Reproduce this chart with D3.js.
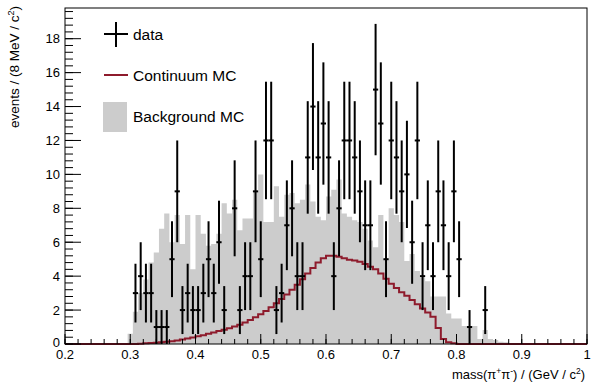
<!DOCTYPE html>
<html><head><meta charset="utf-8">
<script src="https://cdn.jsdelivr.net/npm/d3@7"></script>
<style>
html,body{margin:0;padding:0;background:#fff;}
svg{display:block;font-family:"Liberation Sans",Arial,Helvetica,sans-serif;}
</style></head>
<body>
<svg id="chart" width="591" height="385"></svg>
<script>
// ---- data (bins of 8 MeV starting at 0.296 GeV) ----
const firstBinLow = 0.296;
const binWidth = 0.008;
const dataCounts = [
  0, 3, 4, 3, 3, 1, 1, 1, 5, 9,
  2, 3, 2, 2, 3, 5, 3, 6, 2, 0,
  8, 2, 4, 4, 9, 5, 12, 12, 2, 3,
  7, 8, 4, 4, 11, 14, 11, 13, 11, 4,
  8, 12, 12, 11, 9, 7, 7, 15, 13, 5,
  12, 11, 9, 10, 6, 12, 4, 7, 4, 9,
  7, 4, 9, 5, 0, 1, 0, 0, 2, 0, 0, 0, 0
];
const backgroundMC = [
  0.6, 1.9, 3.0, 3.8, 4.8, 5.4, 6.8, 7.7, 6.0, 7.6,
  5.9, 7.6, 4.4, 7.6, 6.5, 5.8, 5.9, 6.5, 8.3, 7.7,
  8.5, 6.7, 7.4, 7.4, 9.0, 10.0, 7.2, 7.2, 9.3, 7.5,
  8.8, 8.9, 8.3, 8.5, 9.4, 8.4, 7.5, 7.3, 8.7, 9.1,
  9.7, 7.7, 7.5, 7.3, 7.2, 6.8, 6.1, 5.7, 7.6, 5.0,
  8.0, 7.6, 7.2, 4.9, 5.3, 4.3, 3.9, 3.7, 2.8, 2.8,
  2.8, 1.8, 1.5, 1.5, 1.06, 1.06, 1.06, 0.3, 0.83, 0.3, 0.24, 0.14, 0.1
];
const continuumMC = [
  0, 0, 0.02, 0.04, 0.06, 0.08, 0.1, 0.13, 0.16, 0.2,
  0.26, 0.32, 0.38, 0.45, 0.52, 0.6, 0.68, 0.76, 0.84, 0.93,
  1.03, 1.14, 1.27, 1.42, 1.58, 1.76, 1.95, 2.16, 2.4, 2.65,
  2.92, 3.2, 3.5, 3.82, 4.15, 4.48, 4.8, 5.05, 5.2, 5.2,
  5.15, 5.05, 4.97, 4.92, 4.85, 4.72, 4.56, 4.4, 4.15, 3.85,
  3.55, 3.3, 3.05, 2.85, 2.6, 2.35, 2.1, 1.85, 1.6, 0.95,
  0.3, 0.1, 0.05, 0, 0, 0, 0, 0, 0, 0, 0, 0, 0
];
const xDomain = [0.2, 1.0];
const yDomain = [0, 19.81];
const xTickLabels = ["0.2","0.3","0.4","0.5","0.6","0.7","0.8","0.9","1"];
const yTickLabels = ["0","2","4","6","8","10","12","14","16","18"];
const legendLabels = ["data", "Continuum MC", "Background MC"];

// ---- layout ----
const L = 65, R = 587, T = 8, B = 344;
const svg = d3.select("#chart");
const x = d3.scaleLinear().domain(xDomain).range([L, R]);
const y = d3.scaleLinear().domain(yDomain).range([B, T]);
const GREY = "#cccccc", RED = "#8e1b2c";

const bins = dataCounts.map((d, i) => {
  const lo = firstBinLow + i * binWidth;
  return {lo, hi: lo + binWidth, mid: lo + binWidth / 2, n: d, bkg: backgroundMC[i], cont: continuumMC[i]};
});

// background MC filled histogram
const bkgPts = [];
bins.forEach(b => { bkgPts.push([b.lo, b.bkg]); bkgPts.push([b.hi, b.bkg]); });
svg.append("path")
  .attr("d", d3.area().x(d => x(d[0])).y0(y(0)).y1(d => y(d[1]))(bkgPts))
  .attr("fill", GREY);

// continuum MC step line over full range
const contPts = [[xDomain[0], 0]];
bins.forEach(b => { contPts.push([b.lo, b.cont]); contPts.push([b.hi, b.cont]); });
contPts.push([xDomain[1], 0]);
svg.append("clipPath").attr("id", "plotclip").append("rect")
  .attr("x", L).attr("y", T).attr("width", R - L).attr("height", B - T + 2);
svg.append("path")
  .attr("d", d3.line().x(d => x(d[0])).y(d => y(d[1]))(contPts))
  .attr("fill", "none").attr("stroke", RED).attr("stroke-width", 2)
  .attr("clip-path", "url(#plotclip)");

// data points with error bars
const pts = svg.append("g");
bins.filter(b => b.n > 0).forEach(b => {
  const e = Math.sqrt(b.n);
  pts.append("line").attr("x1", x(b.mid)).attr("x2", x(b.mid))
    .attr("y1", y(b.n - e)).attr("y2", y(b.n + e))
    .attr("stroke", "#000").attr("stroke-width", 2);
  pts.append("line").attr("x1", x(b.lo)).attr("x2", x(b.hi))
    .attr("y1", y(b.n)).attr("y2", y(b.n))
    .attr("stroke", "#000").attr("stroke-width", 2);
});

// frame
svg.append("rect").attr("x", L).attr("y", T).attr("width", R - L).attr("height", B - T)
  .attr("fill", "none").attr("stroke", "#000").attr("stroke-width", 1);

// x axis
const xAxis = svg.append("g");
const xMajor = xTickLabels.map(t => +t);
d3.range(0, 41).map(i => xDomain[0] + i * 0.02).forEach(v => {
  xAxis.append("line").attr("x1", x(v)).attr("x2", x(v)).attr("y1", B).attr("y2", B - 5)
    .attr("stroke", "#000").attr("stroke-width", 1);
});
xMajor.forEach((v, i) => {
  xAxis.append("line").attr("x1", x(v)).attr("x2", x(v)).attr("y1", B).attr("y2", B - 10)
    .attr("stroke", "#000").attr("stroke-width", 1);
  xAxis.append("text").attr("x", x(v)).attr("y", B + 15).attr("text-anchor", "middle")
    .attr("font-size", 13).text(xTickLabels[i]);
});

// y axis
const yAxis = svg.append("g");
const yMajor = yTickLabels.map(t => +t);
d3.range(0, 50).map(i => i * 0.4).filter(v => v <= yDomain[1]).forEach(v => {
  yAxis.append("line").attr("x1", L).attr("x2", L + 8).attr("y1", y(v)).attr("y2", y(v))
    .attr("stroke", "#000").attr("stroke-width", 1);
});
yMajor.forEach((v, i) => {
  yAxis.append("line").attr("x1", L).attr("x2", L + 16).attr("y1", y(v)).attr("y2", y(v))
    .attr("stroke", "#000").attr("stroke-width", 1);
  yAxis.append("text").attr("x", L - 5).attr("y", y(v) + 4.5 - (v === 0 ? 2 : 0)).attr("text-anchor", "end")
    .attr("font-size", 13).text(yTickLabels[i]);
});

// axis titles
const xt = svg.append("text").attr("x", R - 2).attr("y", 379).attr("text-anchor", "end").attr("font-size", 13);
xt.append("tspan").text("mass(\u03c0");
xt.append("tspan").attr("dy", -5).attr("font-size", 8.5).text("+");
xt.append("tspan").attr("dy", 5).text("\u03c0");
xt.append("tspan").attr("dy", -5).attr("font-size", 8.5).text("-");
xt.append("tspan").attr("dy", 5).text(") / (GeV / c");
xt.append("tspan").attr("dy", -5).attr("font-size", 8.5).text("2");
xt.append("tspan").attr("dy", 5).text(")");

const yt = svg.append("text").attr("transform", "translate(19,6) rotate(-90)")
  .attr("text-anchor", "end").attr("font-size", 13.5);
yt.append("tspan").text("events / (8 MeV / c");
yt.append("tspan").attr("dy", -5).attr("font-size", 9).text("2");
yt.append("tspan").attr("dy", 5).text(")");

// legend
const lg = svg.append("g");
lg.append("line").attr("x1", 116).attr("x2", 116).attr("y1", 22).attr("y2", 47).attr("stroke", "#000").attr("stroke-width", 2);
lg.append("line").attr("x1", 104).attr("x2", 128).attr("y1", 34).attr("y2", 34).attr("stroke", "#000").attr("stroke-width", 2);
lg.append("line").attr("x1", 104).attr("x2", 128).attr("y1", 75).attr("y2", 75).attr("stroke", RED).attr("stroke-width", 2);
lg.append("rect").attr("x", 103).attr("y", 102).attr("width", 24).attr("height", 30).attr("fill", GREY);
[39.5, 81, 122].forEach((yy, i) => {
  lg.append("text").attr("x", 133).attr("y", yy).attr("font-size", 15.5).text(legendLabels[i]);
});
</script>
</body></html>
